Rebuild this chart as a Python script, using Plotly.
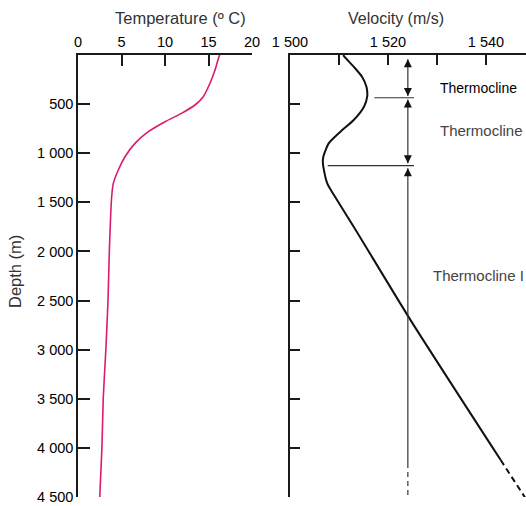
import plotly.graph_objects as go

# ---------------- data ----------------
temp_depth = [0, 17, 153, 288, 425, 509, 594, 679, 781, 900, 1036, 1171, 1307, 1443,
              2000, 2500, 3000, 3500, 4000, 4500]
temp_values = [16.3, 16.2, 15.75, 15.17, 14.4, 13.45, 11.9, 10.0, 8.08, 6.55, 5.4, 4.63,
               4.06, 3.87, 3.6, 3.45, 3.2, 2.9, 2.75, 2.5]

vel_depth = [0, 10, 119, 221, 323, 425, 526, 662, 781, 900, 1036, 1090, 1137, 1307,
             1477, 1748, 2699, 4124]
vel_values = [1510.9, 1511.0, 1513.0, 1514.7, 1515.6, 1515.75, 1515.1, 1513.0, 1510.3,
              1507.9, 1506.8, 1506.7, 1506.8, 1507.6, 1509.6, 1513.0, 1524.6, 1543.0]
vel_ext_depth = [4124, 4531]
vel_ext_values = [1543.0, 1548.3]

# thermocline boundaries and marker line
boundary_depths = [435, 1127]
boundary_v_start = [1517.2, 1507.7]
boundary_v_end = [1525.3, 1525.3]
arrow_velocity = 1524.05
arrow_up_tips = [44, 452, 1154]
arrow_down_tips = [418, 1103, 4560]
arrow_solid_end = 4155

depth_ticks = [500, 1000, 1500, 2000, 2500, 3000, 3500, 4000, 4500]
depth_ticktext = ["500", "1 000", "1 500", "2 000", "2 500", "3 000", "3 500", "4 000", "4 500"]
temp_ticks = [0, 5, 10, 15, 20]
vel_ticks = [1500, 1510, 1520, 1530, 1540]
vel_ticktext = ["1 500", "", "1 520", "", "1 540"]

labels = ["Thermocline", "Thermocline", "Thermocline I"]
label_depths = [336, 764, 2240]
label_velocity = [1530.3, 1530.1, 1528.7]

# ---------------- figure ----------------
W, H = 526, 506
FONT = "Liberation Sans, Arial, sans-serif"
AX = "#1a1a1a"


def fx(p):
    return p / W


def fy(p):
    return 1 - p / H


fig = go.Figure()

fig.add_trace(go.Scatter(x=temp_values, y=temp_depth, mode="lines",
                         line=dict(color="#dc1a70", width=1.6, shape="spline", smoothing=0.6),
                         xaxis="x", yaxis="y", hoverinfo="skip"))

fig.add_trace(go.Scatter(x=vel_values, y=vel_depth, mode="lines",
                         line=dict(color="#111", width=2, shape="spline", smoothing=0.6),
                         xaxis="x2", yaxis="y2", hoverinfo="skip"))
fig.add_trace(go.Scatter(x=vel_ext_values, y=vel_ext_depth, mode="lines",
                         line=dict(color="#111", width=2, dash="6px,4px"),
                         xaxis="x2", yaxis="y2", hoverinfo="skip"))

# horizontal boundary lines
for d, v0, v1 in zip(boundary_depths, boundary_v_start, boundary_v_end):
    fig.add_trace(go.Scatter(x=[v0, v1], y=[d, d], mode="lines",
                             line=dict(color="#333", width=1.2),
                             xaxis="x2", yaxis="y2", hoverinfo="skip"))

# vertical arrow line segments
segments = list(zip(arrow_up_tips, arrow_down_tips))
for i, (a, b) in enumerate(segments):
    end = b if i < len(segments) - 1 else arrow_solid_end
    fig.add_trace(go.Scatter(x=[arrow_velocity, arrow_velocity], y=[a, end], mode="lines",
                             line=dict(color="#333", width=1.2),
                             xaxis="x2", yaxis="y2", hoverinfo="skip"))
fig.add_trace(go.Scatter(x=[arrow_velocity, arrow_velocity],
                         y=[arrow_solid_end, arrow_down_tips[-1] - 20], mode="lines",
                         line=dict(color="#333", width=1.2, dash="5px,4px"),
                         xaxis="x2", yaxis="y2", hoverinfo="skip"))

# arrowheads
fig.add_trace(go.Scatter(x=[arrow_velocity] * len(arrow_up_tips), y=arrow_up_tips,
                         mode="markers", cliponaxis=False,
                         marker=dict(symbol="arrow-up", size=8, color="#111", line=dict(width=0)),
                         xaxis="x2", yaxis="y2", hoverinfo="skip"))
fig.add_trace(go.Scatter(x=[arrow_velocity] * len(arrow_down_tips), y=arrow_down_tips,
                         mode="markers", cliponaxis=False,
                         marker=dict(symbol="arrow-down", size=8, color="#111", line=dict(width=0)),
                         xaxis="x2", yaxis="y2", hoverinfo="skip"))

axis_common = dict(showline=True, linecolor=AX, linewidth=1.5, ticks="inside",
                   tickcolor=AX, tickwidth=1.5, showgrid=False, zeroline=False,
                   fixedrange=True, automargin=False,
                   tickfont=dict(family=FONT, size=14.5, color="#000"))

ydom = [fy(497), fy(55)]

fig.update_layout(
    width=W, height=H,
    margin=dict(l=0, r=0, t=0, b=0, autoexpand=False),
    paper_bgcolor="white", plot_bgcolor="white",
    showlegend=False,
    xaxis=dict(domain=[fx(78), fx(252)], range=[0, 20], side="top", anchor="y",
               tickvals=temp_ticks, ticklen=11, **axis_common),
    yaxis=dict(domain=ydom, range=[4500, 0], anchor="x",
               tickvals=depth_ticks, ticktext=depth_ticktext, ticklen=12, **axis_common),
    xaxis2=dict(domain=[fx(290), fx(526)], range=[1500, 1548.16], side="top", anchor="y2",
                tickvals=vel_ticks, ticktext=vel_ticktext, ticklen=10, **axis_common),
    yaxis2=dict(domain=ydom, range=[4500, 0], anchor="x2",
                tickvals=depth_ticks, ticklen=10, showticklabels=False,
                **{k: v for k, v in axis_common.items() if k != "tickfont"}),
)

annotations = [
    dict(text="Temperature (º C)", x=fx(180), y=fy(18), xref="paper", yref="paper",
         xanchor="center", yanchor="middle",
         showarrow=False, font=dict(family=FONT, size=16.5, color="#333")),
    dict(text="Velocity (m/s)", x=fx(396), y=fy(18), xref="paper", yref="paper",
         xanchor="center", yanchor="middle",
         showarrow=False, font=dict(family=FONT, size=16, color="#333")),
    dict(text="Depth (m)", x=fx(15), y=fy(272), xref="paper", yref="paper",
         xanchor="center", yanchor="middle",
         showarrow=False, textangle=-90, font=dict(family=FONT, size=16.5, color="#333")),
]
label_colors = ["#000", "#444", "#444"]
label_sizes = [14, 15, 15]
for t, d, c, s, lx in zip(labels, label_depths, label_colors, label_sizes, label_velocity):
    annotations.append(dict(text=t, x=lx, y=d, xref="x2", yref="y2", xanchor="left",
                            yanchor="middle",
                            showarrow=False, font=dict(family=FONT, size=s, color=c)))
fig.update_layout(annotations=annotations)

fig.write_html("out.html", config={"displayModeBar": False},
               post_script="document.body.style.margin='0px';"
                           "document.body.style.overflow='hidden';")
